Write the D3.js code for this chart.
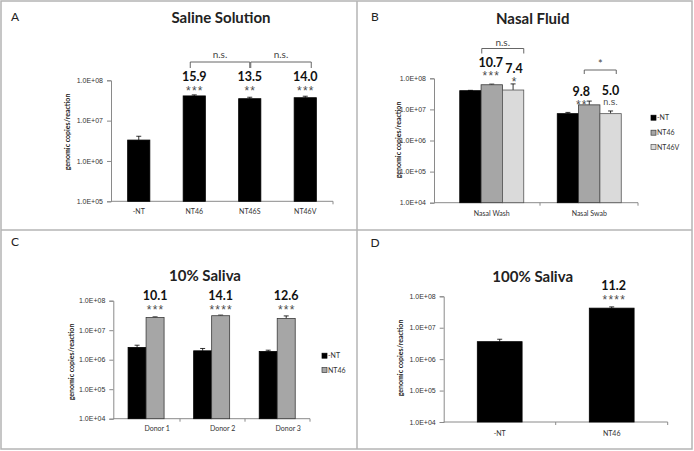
<!DOCTYPE html>
<html><head><meta charset="utf-8">
<script src="https://cdnjs.cloudflare.com/ajax/libs/d3/7.8.5/d3.min.js"></script>
<style>
body{margin:0;background:#fff;}
svg{display:block;font-family:Lato,"Open Sans",sans-serif;}
</style></head><body>
<svg id="c" width="694" height="451"></svg>
<script>
// ---------- DATA ----------
// Panel A: Saline Solution
const catsA = ["-NT", "NT46", "NT46S", "NT46V"];
const valsA = [3.3e6, 4.1e7, 3.5e7, 3.7e7];
const errA  = [0.8e6, 0.25e7, 0.3e7, 0.33e7];
const foldA = ["", "15.9", "13.5", "14.0"];
const starsA = ["", "***", "**", "***"];

// Panel B: Nasal Fluid
const groupsB = ["Nasal Wash", "Nasal Swab"];
const seriesB = ["-NT", "NT46", "NT46V"];
const valsB_NT   = [4.0e7, 7.3e6];
const valsB_NT46 = [6.2e7, 1.4e7];
const valsB_NT46V= [4.2e7, 7.3e6];
const errB_NT    = [0.1e7, 0.7e6];
const errB_NT46  = [0.3e7, 0.45e7];
const errB_NT46V = [2.4e7, 1.6e6];
const foldB_NT46  = ["10.7", "9.8"];
const starsB_NT46 = ["***", "**"];
const foldB_NT46V = ["7.4", "5.0"];
const starsB_NT46V= ["*", "n.s."];

// Panel C: 10% Saliva
const groupsC = ["Donor 1", "Donor 2", "Donor 3"];
const seriesC = ["-NT", "NT46"];
const valsC_NT   = [2.6e6, 2.0e6, 1.9e6];
const valsC_NT46 = [2.7e7, 3.1e7, 2.5e7];
const errC_NT    = [0.5e6, 0.4e6, 0.2e6];
const errC_NT46  = [0.13e7, 0.15e7, 0.55e7];
const foldC = ["10.1", "14.1", "12.6"];
const starsC = ["***", "****", "***"];

// Panel D: 100% Saliva
const catsD = ["-NT", "NT46"];
const valsD = [3.6e6, 4.2e7];
const errD  = [0.7e6, 0.4e7];
const foldD = ["", "11.2"];
const starsD = ["", "****"];

const tickVals = [1e4, 1e5, 1e6, 1e7, 1e8];
const tickFmt = d => "1.0E+" + String(Math.round(Math.log10(d))).padStart(2, "0");

// ---------- DRAW ----------
const svg = d3.select("#c");
const AX = "#8a8a8a", TXT = "#222";
const fill = {"-NT": "#000", "NT46": "#a6a6a6", "NT46V": "#dadada"};
const strokeC = {"-NT": "#000", "NT46": "#3a3a3a", "NT46V": "#555"};

// panel borders
const B = svg.append("g").attr("fill", "none").attr("stroke", "#b4b4b4").attr("stroke-width", 1.5);
B.append("rect").attr("x", 1).attr("y", 1).attr("width", 691).attr("height", 448);
B.append("line").attr("x1", 357).attr("x2", 357).attr("y1", 1).attr("y2", 449);
B.append("line").attr("x1", 1).attr("x2", 692).attr("y1", 230).attr("y2", 230);

function yAxis(y, x0, domain) {
  const g = svg.append("g").attr("transform", `translate(${x0},0)`)
    .call(d3.axisLeft(y).tickValues(tickVals.filter(t => t >= domain[0] && t <= domain[1]))
      .tickFormat(tickFmt).tickSize(4).tickPadding(4));
  g.select(".domain").attr("stroke", AX);
  g.selectAll(".tick line").attr("stroke", AX);
  g.selectAll("text").attr("fill", "#333").style("font-size", "7px");
}
function xAxisLine(x0, x1, yb, bounds) {
  svg.append("line").attr("x1", x0).attr("x2", x1).attr("y1", yb).attr("y2", yb).attr("stroke", AX);
  bounds.forEach(b => svg.append("line").attr("x1", b).attr("x2", b).attr("y1", yb).attr("y2", yb + 3).attr("stroke", AX));
}
function xLabel(t, x, y) {
  svg.append("text").attr("x", x).attr("y", y).attr("text-anchor", "middle")
    .attr("fill", "#333").style("font-size", "7px").text(t);
}
function title(t, x, y) {
  svg.append("text").attr("x", x).attr("y", y).attr("text-anchor", "middle")
    .attr("fill", TXT).style("font-size", "15px").style("font-weight", "700").text(t);
}
function letter(t, x, y) {
  svg.append("text").attr("x", x).attr("y", y).attr("text-anchor", "middle")
    .attr("fill", TXT).style("font-size", "12px").text(t);
}
function yTitle(x, y) {
  svg.append("text").attr("transform", `translate(${x},${y}) rotate(-90)`).attr("text-anchor", "middle")
    .attr("fill", TXT).style("font-size", "7px").style("font-weight", "700").text("genomic copies/reaction");
}
function bar(x, w, y, v, e, s, yb) {
  svg.append("line").attr("x1", x + w / 2).attr("x2", x + w / 2).attr("y1", y(v)).attr("y2", y(v + e))
    .attr("stroke", "#000").attr("stroke-width", 0.8);
  svg.append("line").attr("x1", x + w / 2 - 2.5).attr("x2", x + w / 2 + 2.5).attr("y1", y(v + e)).attr("y2", y(v + e))
    .attr("stroke", "#000").attr("stroke-width", 0.8);
  svg.append("rect").attr("x", x).attr("y", y(v)).attr("width", w).attr("height", yb - y(v))
    .attr("fill", fill[s]).attr("stroke", strokeC[s]).attr("stroke-width", 0.8);
}
// fold number (bold) with significance label below it
function annot(f, st, x, yBase) {
  svg.append("text").attr("x", x).attr("y", yBase).attr("text-anchor", "middle")
    .attr("fill", "#111").style("font-size", "12.5px").style("font-weight", "700").text(f);
  const ns = st === "n.s.";
  const t = svg.append("text").attr("x", x).attr("y", yBase + (ns ? 10.9 : 13.6)).attr("text-anchor", "middle")
    .attr("fill", "#4a4a4a").style("font-family", "'Liberation Sans',Arial,sans-serif")
    .style("font-size", ns ? "9px" : "12px").text(st);
  if (!ns) t.style("letter-spacing", "1.2px").attr("dx", 0.6);
}
function bracket(x1, x2, yTop, drop, label, ly) {
  svg.append("path").attr("d", `M${x1},${yTop + drop}V${yTop}H${x2}V${yTop + drop}`)
    .attr("fill", "none").attr("stroke", "#555").attr("stroke-width", 0.9);
  svg.append("text").attr("x", (x1 + x2) / 2).attr("y", ly).attr("text-anchor", "middle")
    .attr("fill", "#444").style("font-size", label === "*" ? "11px" : "10px").text(label);
}
function legend(items, x, ys) {
  items.forEach((s, i) => {
    svg.append("rect").attr("x", x).attr("y", ys[i] - 2.5).attr("width", 5).attr("height", 5)
      .attr("fill", fill[s]).attr("stroke", strokeC[s]).attr("stroke-width", 0.7);
    svg.append("text").attr("x", x + 6).attr("y", ys[i] + 2.5).attr("fill", "#333").style("font-size", "7px").text(s);
  });
}

// ---- Panel A ----
{
  const yb = 201.3;
  const y = d3.scaleLog().domain([1e5, 1e8]).range([yb, 80.3]);
  const x = d3.scaleBand().domain(catsA).range([111, 333]).paddingInner(0.6).paddingOuter(0.3);
  yAxis(y, 111, [1e5, 1e8]);
  xAxisLine(111, 333, yb, [333]);
  catsA.forEach((c, i) => {
    bar(x(c), x.bandwidth(), y, valsA[i], errA[i], "-NT", yb);
    const cx = x(c) + x.bandwidth() / 2;
    xLabel(c, cx, 214);
    if (foldA[i]) annot(foldA[i], starsA[i], cx, 81);
  });
  const c1 = x("NT46") + x.bandwidth() / 2 - 4, c2 = x("NT46S") + x.bandwidth() / 2, c3 = x("NT46V") + x.bandwidth() / 2 + 6;
  bracket(c1, c2, 62, 6, "n.s.", 58);
  bracket(c2 + 1, c3, 62, 6, "n.s.", 58);
  title("Saline Solution", 221, 23);
  letter("A", 15, 21);
  yTitle(70, 132);
}

// ---- Panel B ----
{
  const yb = 202.7;
  const y = d3.scaleLog().domain([1e4, 1e8]).range([yb, 78.3]);
  const xg = d3.scaleBand().domain(groupsB).range([443, 638]);
  const xs = d3.scaleBand().domain(seriesB).range([-32, 32]);
  yAxis(y, 434, [1e4, 1e8]);
  xAxisLine(434, 638, yb, [540, 638]);
  const vals = {"-NT": valsB_NT, "NT46": valsB_NT46, "NT46V": valsB_NT46V};
  const errs = {"-NT": errB_NT, "NT46": errB_NT46, "NT46V": errB_NT46V};
  groupsB.forEach((g, i) => {
    const gc = xg(g) + xg.bandwidth() / 2;
    seriesB.forEach(s => bar(gc + xs(s), xs.bandwidth(), y, vals[s][i], errs[s][i], s, yb));
    xLabel(g, gc, 216);
    const c46 = gc + xs("NT46") + xs.bandwidth() / 2, c46v = gc + xs("NT46V") + xs.bandwidth() / 2;
    annot(foldB_NT46[i], starsB_NT46[i], c46 - (i === 0 ? 1 : 8), i === 0 ? 66.5 : 95.5);
    annot(foldB_NT46V[i], starsB_NT46V[i], c46v + (i === 0 ? 1 : 0), i === 0 ? 72.5 : 94.5);
  });
  const w = xg("Nasal Wash") + xg.bandwidth() / 2, sw = xg("Nasal Swab") + xg.bandwidth() / 2;
  bracket(w - 10, w + 32, 48.5, 5, "n.s.", 45.5);
  bracket(sw - 5, sw + 27, 70, 4, "*", 68);
  legend(seriesB, 651, [117.7, 132.7, 147]);
  title("Nasal Fluid", 532.7, 24);
  letter("B", 375, 21);
  yTitle(401, 140);
}

// ---- Panel C ----
{
  const yb = 418.7;
  const y = d3.scaleLog().domain([1e4, 1e8]).range([yb, 300.7]);
  const xg = d3.scaleBand().domain(groupsC).range([113.3, 310]);
  const xs = d3.scaleBand().domain(seriesC).range([-18, 18]);
  yAxis(y, 113.3, [1e4, 1e8]);
  xAxisLine(113.3, 310, yb, [180, 245, 310]);
  const vals = {"-NT": valsC_NT, "NT46": valsC_NT46};
  const errs = {"-NT": errC_NT, "NT46": errC_NT46};
  groupsC.forEach((g, i) => {
    const gc = xg(g) + xg.bandwidth() / 2;
    seriesC.forEach(s => bar(gc + xs(s), xs.bandwidth(), y, vals[s][i], errs[s][i], s, yb));
    xLabel(g, gc + 11, 431);
    const c46 = gc + xs("NT46") + xs.bandwidth() / 2;
    annot(foldC[i], starsC[i], c46, 300);
  });
  legend(seriesC, 322, [355.7, 370]);
  title("10% Saliva", 205, 281);
  letter("C", 15, 246);
  yTitle(74, 362);
}

// ---- Panel D ----
{
  const yb = 422;
  const y = d3.scaleLog().domain([1e4, 1e8]).range([yb, 296.3]);
  const x = d3.scaleBand().domain(catsD).range([443.7, 667.7]).paddingInner(0.6).paddingOuter(0.3);
  yAxis(y, 443.7, [1e4, 1e8]);
  xAxisLine(443.7, 667.7, yb, [555.7, 667.7]);
  catsD.forEach((c, i) => {
    bar(x(c), x.bandwidth(), y, valsD[i], errD[i], "-NT", yb);
    const cx = x(c) + x.bandwidth() / 2;
    xLabel(c, cx, 436);
    if (foldD[i]) annot(foldD[i], starsD[i], cx + 2, 290);
  });
  title("100% Saliva", 532.7, 282);
  letter("D", 375, 247);
  yTitle(403, 358);
}
</script>
</body></html>
